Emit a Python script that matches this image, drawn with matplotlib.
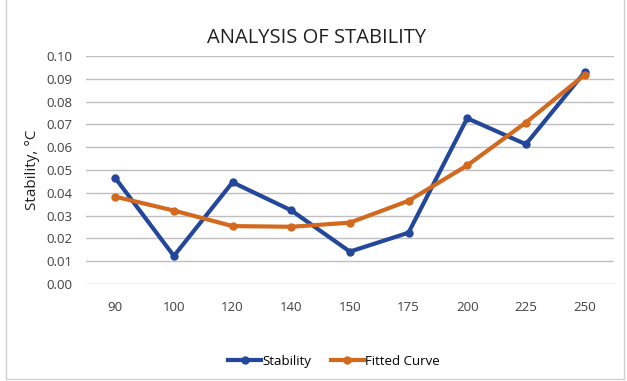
from matplotlib import pyplot as plt
import numpy as np

categories = ['90', '100', '120', '140', '150', '175', '200', '225', '250']
stability = [0.0465, 0.0123, 0.0446, 0.0323, 0.0142, 0.0225, 0.0727, 0.0613, 0.0928]
fitted = [0.0383, 0.0322, 0.0254, 0.0251, 0.0269, 0.0365, 0.0520, 0.0708, 0.0917]
yticks = [0.00, 0.01, 0.02, 0.03, 0.04, 0.05, 0.06, 0.07, 0.08, 0.09, 0.10]

plt.rcParams['font.family'] = ['Open Sans', 'DejaVu Sans']

fig = plt.figure(figsize=(6.27, 3.81), dpi=100)
ax = fig.add_axes([0.137, 0.2546, 0.842, 0.5984])

x = np.arange(len(categories))
ax.plot(x, stability, color='#23479A', lw=3, marker='o', ms=5, label='Stability', zorder=3)
ax.plot(x, fitted, color='#D2691E', lw=3, marker='o', ms=5, label='Fitted Curve', zorder=4)

ax.set_xlim(-0.5, len(categories) - 0.5)
ax.set_ylim(0, 0.10)
ax.set_xticks(x)
ax.set_xticklabels(categories)
ax.set_yticks(yticks)
ax.set_yticklabels([f'{v:.2f}' for v in yticks])
ax.grid(axis='y', color='#BFBFBF', lw=1)
ax.set_axisbelow(True)
for s in ax.spines.values():
    s.set_visible(False)
ax.tick_params(length=0, labelsize=9.5, colors='#404040', pad=10)
ax.tick_params(axis='x', pad=12)

ax.set_ylabel('Stability, °C', fontsize=11, color='#202020', labelpad=4)
fig.text(0.505, 0.9, 'ANALYSIS OF STABILITY', ha='center', va='center', fontsize=14.5, color='#202020')

ax.legend(loc='center', bbox_to_anchor=(0.47, -0.34), ncol=2, frameon=False, fontsize=9.5,
          handlelength=2.5, columnspacing=1.5, handletextpad=0.1)

fig.patches.append(plt.Rectangle((0.01, 0.005), 0.985, 1.2, transform=fig.transFigure,
                                 fill=False, edgecolor='#D0D0D0', lw=1))

fig.savefig('out.png', dpi=100)
